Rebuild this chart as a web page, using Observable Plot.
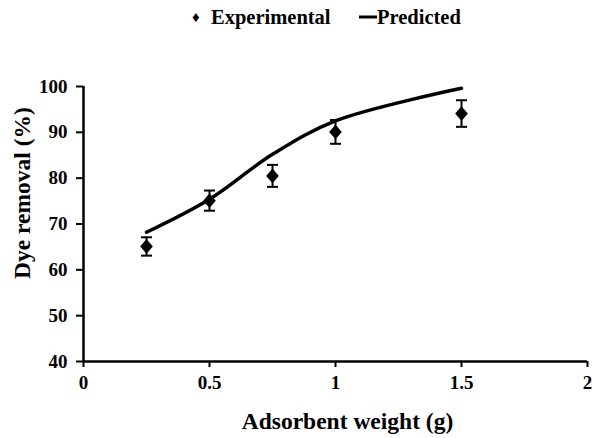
<!DOCTYPE html>
<html>
<head>
<meta charset="utf-8">
<script src="https://cdn.jsdelivr.net/npm/d3@7"></script>
<script src="https://cdn.jsdelivr.net/npm/@observablehq/plot@0.6"></script>
<style>
  html, body { margin: 0; padding: 0; background: #fff; }
  body { width: 592px; height: 438px; overflow: hidden; font-family: "Liberation Serif", "Times New Roman", serif; }
  #legend { position: relative; height: 34px; font-weight: bold; font-size: 20.5px; color: #000; }
  #legend span { position: absolute; top: 50%; transform: translateY(-50%); line-height: 1; white-space: nowrap; }
  #legend .sw-dia { left: 192px; font-size: 15px; }
  #legend .lab-exp { left: 211px; }
  #legend .sw-line { left: 359px; width: 18px; height: 3px; background: #000; }
  #legend .lab-pred { left: 377px; }
  svg { display: block; }
  #chart svg text { font-family: "Liberation Serif", "Times New Roman", serif !important; font-weight: bold !important; }
  #chart svg g[aria-label*="tick label"] text { font-size: 19px !important; }
</style>
</head>
<body>
<div id="legend"><span class="sw-dia">♦</span><span class="lab-exp">Experimental</span><span class="sw-line"></span><span class="lab-pred">Predicted</span></div>
<div id="chart"></div>
<script>
const weights = [0.25, 0.5, 0.75, 1, 1.5];
const experimental = [65.1, 75.1, 80.5, 90.1, 94.1];
const errors = [2.0, 2.2, 2.4, 2.6, 2.9];
const predicted = [68.2, 75.4, 85.2, 92.5, 99.6];
const xTicks = [0, 0.5, 1, 1.5, 2];
const yTicks = [40, 50, 60, 70, 80, 90, 100];
const xLabel = "Adsorbent weight (g)";
const yLabel = "Dye removal (%)";

const exp = weights.map((w, i) => ({x: w, y: experimental[i], lo: experimental[i] - errors[i], hi: experimental[i] + errors[i]}));
const pred = weights.map((w, i) => ({x: w, y: predicted[i]}));

const capSymbol = {
  draw(ctx, size) {
    const w = Math.sqrt(size / Math.PI);
    ctx.moveTo(-w, 0);
    ctx.lineTo(w, 0);
  }
};
const diamondSymbol = {
  draw(ctx, size) {
    const r = Math.sqrt(size / Math.PI);
    const w = r * 0.9, h = r * 1.05;
    ctx.moveTo(0, -h);
    ctx.lineTo(w, 0);
    ctx.lineTo(0, h);
    ctx.lineTo(-w, 0);
    ctx.closePath();
  }
};

const font = '"Liberation Serif", "Times New Roman", serif';
const chart = Plot.plot({
  width: 592,
  height: 404,
  marginTop: 52,
  marginBottom: 77,
  marginLeft: 83,
  marginRight: 5,
  style: {fontFamily: font, fontSize: "19px", fontWeight: "bold", color: "#000", background: "#fff"},
  x: {domain: [0, 2]},
  y: {domain: [40, 100]},
  marks: [
    Plot.axisX({ticks: xTicks, tickSize: 6, tickPadding: 8, strokeWidth: 2, label: null, tickFormat: d => String(d), fontSize: 19, fontWeight: "bold", fontFamily: font}),
    Plot.axisY({ticks: yTicks, tickSize: 7, tickPadding: 9, strokeWidth: 2, label: null, fontSize: 19, fontWeight: "bold", fontFamily: font}),
    Plot.ruleY([40], {strokeWidth: 2.5}),
    Plot.ruleX([0], {strokeWidth: 2.5}),
    Plot.line(pred, {x: "x", y: "y", curve: "catmull-rom", stroke: "#000", strokeWidth: 3.5}),
    Plot.ruleX(exp, {x: "x", y1: "lo", y2: "hi", stroke: "#000", strokeWidth: 2}),
    Plot.dot(exp, {x: "x", y: "lo", symbol: capSymbol, r: 5.5, stroke: "#000", strokeWidth: 2, fill: "none"}),
    Plot.dot(exp, {x: "x", y: "hi", symbol: capSymbol, r: 5.5, stroke: "#000", strokeWidth: 2, fill: "none"}),
    Plot.dot(exp, {x: "x", y: "y", symbol: diamondSymbol, r: 7, fill: "#000", stroke: "none"}),
    Plot.text([xLabel], {frameAnchor: "bottom", textAnchor: "middle", dy: 67, dx: 12, fontSize: 23.5, fontWeight: "bold", fontFamily: font}),
    Plot.text([yLabel], {frameAnchor: "left", textAnchor: "middle", dx: -61, dy: -31, rotate: -90, fontSize: 23.5, fontWeight: "bold", fontFamily: font})
  ]
});
document.getElementById("chart").appendChild(chart);
</script>
</body>
</html>
